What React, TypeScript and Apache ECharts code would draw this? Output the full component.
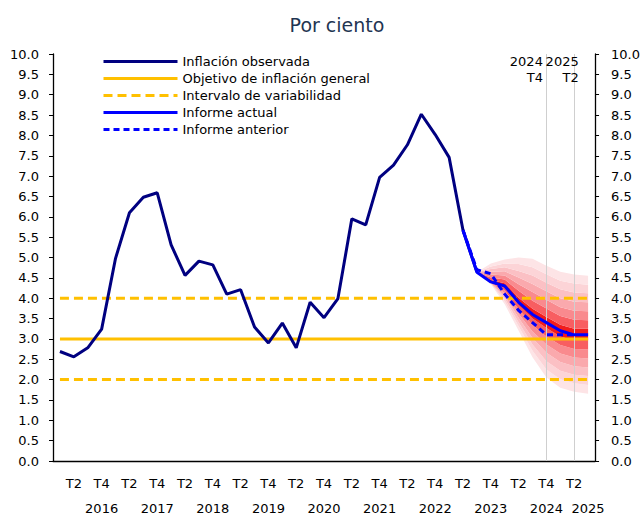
import React, { useEffect, useRef } from "react";
import * as echarts from "echarts";

// ---------- data ----------
const YEARS = [2016, 2017, 2018, 2019, 2020, 2021, 2022, 2023, 2024, 2025];
const QUARTERS = ["T1", "T2", "T3", "T4"];
const LAST_CATEGORY = "2025T3";

// Inflación observada (2016T1 .. 2023T3)
const observed = [
  2.69, 2.56, 2.78, 3.24,
  4.98, 6.10, 6.48, 6.59,
  5.31, 4.56, 4.91, 4.82,
  4.10, 4.21, 3.29, 2.90,
  3.39, 2.78, 3.90, 3.52,
  3.99, 5.95, 5.80, 6.97,
  7.27, 7.77, 8.52, 8.02,
  7.46, 5.67, 4.64,
];

// Informe actual (from 2023T2)
const ACTUAL_START = "2023T2";
const informeActual = [5.67, 4.64, 4.40, 4.30, 3.90, 3.60, 3.40, 3.20, 3.10, 3.10];

// Informe anterior (from 2023T2)
const ANTERIOR_START = "2023T2";
const informeAnterior = [5.67, 4.70, 4.60, 4.10, 3.70, 3.40, 3.10, 3.10, 3.10];

const TARGET = 3;
const RANGE_LOW = 2;
const RANGE_HIGH = 4;

// Fan chart edges (from 2023T3 to 2025T3), bottom to top
const FAN_START = "2023T3";
const fanLower100 = [4.64, 4.35, 3.85, 3.20, 2.55, 2.05, 1.80, 1.70, 1.65];
const fanLower85 = [4.64, 4.36, 3.92, 3.31, 2.71, 2.25, 2.01, 1.91, 1.87];
const fanLower70 = [4.64, 4.37, 3.99, 3.41, 2.86, 2.45, 2.22, 2.12, 2.09];
const fanLower55 = [4.64, 4.37, 4.05, 3.52, 3.02, 2.66, 2.43, 2.33, 2.30];
const fanLower40 = [4.64, 4.38, 4.12, 3.62, 3.18, 2.86, 2.64, 2.54, 2.52];
const fanLower25 = [4.64, 4.39, 4.19, 3.73, 3.34, 3.06, 2.85, 2.75, 2.74];
const fanLower10 = [4.64, 4.40, 4.26, 3.83, 3.50, 3.27, 3.06, 2.96, 2.96];
const fanUpper10 = [4.64, 4.45, 4.37, 4.01, 3.74, 3.54, 3.35, 3.25, 3.25];
const fanUpper25 = [4.64, 4.51, 4.46, 4.18, 3.94, 3.75, 3.56, 3.47, 3.46];
const fanUpper40 = [4.64, 4.58, 4.56, 4.34, 4.15, 3.96, 3.78, 3.69, 3.68];
const fanUpper55 = [4.64, 4.65, 4.66, 4.51, 4.35, 4.17, 4.00, 3.91, 3.90];
const fanUpper70 = [4.64, 4.72, 4.76, 4.67, 4.56, 4.38, 4.22, 4.14, 4.12];
const fanUpper85 = [4.64, 4.78, 4.85, 4.84, 4.76, 4.59, 4.43, 4.36, 4.33];
const fanUpper100 = [4.64, 4.85, 4.95, 5.00, 4.97, 4.80, 4.65, 4.58, 4.55];

// fan shades, outer -> core
const FAN_COLORS = ["#fde4e6", "#fcd4d7", "#fbc0c4", "#faa9ad", "#f98a8e", "#f85e61", "#f21c1c"];

const MARKERS = [
  { cat: "2024T4", label: "2024\nT4", dx: -3 },
  { cat: "2025T2", label: "2025\nT2", dx: 5 },
];

// ---------- helpers ----------
const categories: string[] = [];
YEARS.forEach((y) =>
  QUARTERS.forEach((q) => {
    categories.push(`${y}${q}`);
  })
);
categories.length = categories.indexOf(LAST_CATEGORY) + 1;

function place(start: string, values: number[]): (number | null)[] {
  const s = categories.indexOf(start);
  return categories.map((_, i) => (i >= s && i - s < values.length ? values[i - s] : null));
}
const constant = (v: number) => categories.map(() => v);

const FONT = "DejaVu Sans";

export default function App() {
  const ref = useRef<HTMLDivElement>(null);

  useEffect(() => {
    if (!ref.current) return;
    const chart = echarts.init(ref.current, undefined, { renderer: "svg" });

    const edges = [
      fanLower100, fanLower85, fanLower70, fanLower55, fanLower40, fanLower25, fanLower10,
      fanUpper10, fanUpper25, fanUpper40, fanUpper55, fanUpper70, fanUpper85, fanUpper100,
    ];
    const nBands = edges.length - 1;
    const mid = (nBands - 1) / 2;
    const fanSeries: any[] = [];
    fanSeries.push({
      name: "fanBase",
      type: "line",
      stack: "fan",
      data: place(FAN_START, edges[0]),
      symbol: "none",
      lineStyle: { opacity: 0, width: 0 },
      areaStyle: { opacity: 0 },
      z: 1,
      silent: true,
    });
    for (let k = 0; k < nBands; k++) {
      const diff = edges[k + 1].map((v, i) => +(v - edges[k][i]).toFixed(3));
      const level = k <= mid ? k : nBands - 1 - k;
      fanSeries.push({
        name: "fan" + k,
        type: "line",
        stack: "fan",
        data: place(FAN_START, diff),
        symbol: "none",
        lineStyle: { opacity: 0, width: 0 },
        areaStyle: { color: FAN_COLORS[level], opacity: 1 },
        z: 1,
        silent: true,
      });
    }

    const option: any = {
      animation: false,
      backgroundColor: "#ffffff",
      textStyle: { fontFamily: FONT },
      title: {
        text: "Por ciento",
        left: 332,
        top: 10,
        textAlign: "center",
        textStyle: { fontFamily: FONT, fontSize: 19, fontWeight: "normal", color: "#1f3552" },
      },
      legend: {
        data: [
          "Inflación observada",
          "Objetivo de inflación general",
          "Intervalo de variabilidad",
          "Informe actual",
          "Informe anterior",
        ],
        orient: "vertical",
        left: 102,
        top: 55,
        padding: 0,
        itemWidth: 74,
        itemHeight: 14,
        itemGap: 4,
        itemStyle: { opacity: 0 },
        lineStyle: { width: 3 },
        textStyle: { fontFamily: FONT, fontSize: 13, color: "#000" },
        selectedMode: false,
      },
      grid: { left: 53, right: 47, top: 54, bottom: 57, containLabel: false },
      xAxis: {
        type: "category",
        data: categories,
        boundaryGap: true,
        axisLine: { show: true, lineStyle: { color: "#000", width: 1.3 } },
        axisTick: { show: false },
        splitLine: { show: false },
        axisLabel: {
          interval: 0,
          hideOverlap: false,
          margin: 10,
          fontFamily: FONT,
          fontSize: 13,
          color: "#000",
          lineHeight: 25,
          formatter: (value: string) => {
            const q = value.slice(4);
            const y = value.slice(0, 4);
            if (q === "T2") return "T2";
            if (q === "T4") return "T4\n" + y;
            if (value === LAST_CATEGORY) return "\n" + y;
            return "";
          },
        },
      },
      yAxis: [0, 1].map((i) => ({
        type: "value",
        min: 0,
        max: 10,
        interval: 0.5,
        position: i === 0 ? "left" : "right",
        axisLine: { show: true, lineStyle: { color: "#000", width: 1.3 } },
        axisTick: { show: true, inside: false, length: 4, lineStyle: { color: "#000" } },
        splitLine: { show: false },
        axisLabel: {
          margin: i === 0 ? 14 : 16,
          fontFamily: FONT,
          fontSize: 13,
          color: "#000",
          formatter: (v: number) => v.toFixed(1),
        },
      })),
      series: [
        ...fanSeries,
        {
          name: "Intervalo de variabilidad",
          type: "line",
          data: constant(RANGE_HIGH),
          symbol: "none",
          lineStyle: { color: "#ffc000", width: 3, type: [9, 5] },
          itemStyle: { color: "#ffc000" },
          z: 2,
        },
        {
          name: "Intervalo de variabilidad",
          type: "line",
          data: constant(RANGE_LOW),
          symbol: "none",
          lineStyle: { color: "#ffc000", width: 3, type: [9, 5] },
          itemStyle: { color: "#ffc000" },
          z: 2,
        },
        {
          name: "Objetivo de inflación general",
          type: "line",
          data: constant(TARGET),
          symbol: "none",
          lineStyle: { color: "#ffc000", width: 3 },
          itemStyle: { color: "#ffc000" },
          z: 3,
          markLine: {
            silent: true,
            symbol: "none",
            label: { show: false },
            lineStyle: { color: "#cfcfcf", width: 1, type: "solid" },
            data: MARKERS.map((m) => ({ xAxis: m.cat })),
          },
          markPoint: {
            silent: true,
            symbol: "rect",
            symbolSize: 1,
            itemStyle: { color: "rgba(0,0,0,0)" },
            data: MARKERS.map((m) => ({
              coord: [m.cat, 10],
              label: {
                show: true,
                formatter: m.label,
                position: [m.dx, 0],
                align: "right",
                verticalAlign: "top",
                lineHeight: 16,
                fontFamily: FONT,
                fontSize: 13,
                color: "#000",
              },
            })),
          },
        },
        {
          name: "Inflación observada",
          type: "line",
          data: observed,
          symbol: "none",
          lineStyle: { color: "#000080", width: 3 },
          itemStyle: { color: "#000080" },
          z: 4,
        },
        {
          name: "Informe anterior",
          type: "line",
          data: place(ANTERIOR_START, informeAnterior),
          symbol: "none",
          lineStyle: { color: "#0000ff", width: 3, type: [6, 4] },
          itemStyle: { color: "#0000ff" },
          z: 5,
        },
        {
          name: "Informe actual",
          type: "line",
          data: place(ACTUAL_START, informeActual),
          symbol: "none",
          lineStyle: { color: "#0000ff", width: 3 },
          itemStyle: { color: "#0000ff" },
          z: 6,
        },
      ],
    };

    chart.setOption(option);
    return () => chart.dispose();
  }, []);

  return <div ref={ref} style={{ width: 643, height: 521, position: "absolute", left: 0, top: 0 }} />;
}
